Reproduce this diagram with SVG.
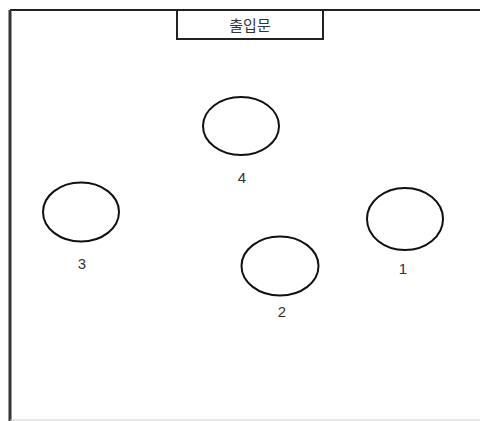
<svg xmlns="http://www.w3.org/2000/svg" width="480" height="421" viewBox="0 0 480 421">
<style>
.el{fill:none;stroke:#111;stroke-width:2}
.lbl{font-family:"Liberation Sans","Noto Sans CJK KR",sans-serif;font-size:15px;fill:#333;text-anchor:middle}
</style>
<rect x="0" y="0" width="480" height="421" fill="#fff"/>
<g id="room">
<line x1="10" y1="10" x2="480" y2="10" stroke="#222" stroke-width="2"/>
<line x1="10" y1="10" x2="10" y2="421" stroke="#333" stroke-width="3"/>
<line x1="10" y1="420" x2="480" y2="420" stroke="#ccc" stroke-width="1"/>
</g>
<g id="door">
<rect x="177" y="10" width="146" height="29" fill="#fff" stroke="#222" stroke-width="2"/>
<text x="250" y="31" class="lbl" style="font-family:'Noto Sans CJK KR',sans-serif;font-size:15px">출입문</text>
</g>
<g id="n4"><ellipse class="el" cx="241" cy="126" rx="38" ry="29"/><text class="lbl" x="242" y="183">4</text></g>
<g id="n3"><ellipse class="el" cx="81" cy="212" rx="38" ry="29.5"/><text class="lbl" x="82" y="269">3</text></g>
<g id="n1"><ellipse class="el" cx="405" cy="219" rx="38" ry="31"/><text class="lbl" x="403" y="274">1</text></g>
<g id="n2"><ellipse class="el" cx="280" cy="266" rx="38.5" ry="29.5"/><text class="lbl" x="282" y="317">2</text></g>
<g id="connectors"></g>
</svg>
